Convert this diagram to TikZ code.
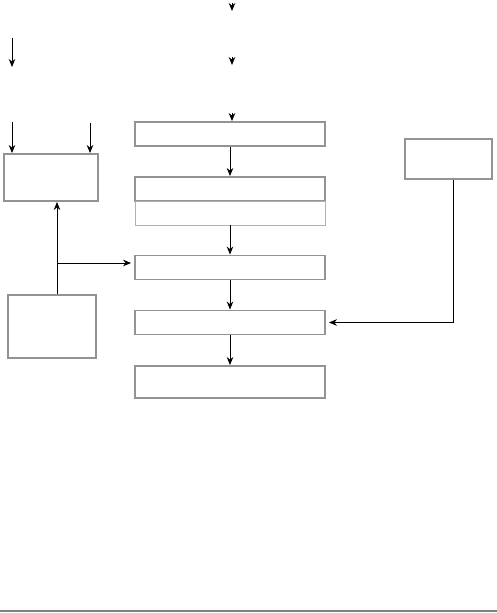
\documentclass[tikz,border=0pt]{standalone}
\usetikzlibrary{arrows.meta}

\begin{document}
\begin{tikzpicture}[x=0.02cm, y=-0.02cm,
  blk/.style={draw=gray!85, line width=1.1pt, rectangle, inner sep=0pt},
  wide/.style={blk, minimum width=3.8cm, minimum height=0.48cm},
  arr/.style={line width=0.5pt, -{Stealth[length=0.16cm, width=0.13cm]}}
]
\useasboundingbox (0,0) rectangle (497,613);
% boxes
\node[blk, minimum width=1.88cm, minimum height=0.94cm] (lt) at (51, 177.5) {};
\node[blk, minimum width=1.76cm, minimum height=1.26cm] (lb) at (52, 326.5) {};
\node[wide] (b1) at (230, 134) {};
\node[wide] (b2) at (230, 189) {};
\node[wide, draw=gray!60, line width=0.5pt] (b2x) at (230, 213) {};
\node[wide] (b3) at (230, 267.5) {};
\node[wide] (b4) at (230, 322.5) {};
\node[wide, minimum height=0.64cm] (b5) at (230, 382) {};
\node[blk, minimum width=1.74cm, minimum height=0.8cm] (rt) at (448.5, 159) {};
% free arrow ends
\coordinate (t1) at (232, 3);
\coordinate (t2) at (232, 57);
\coordinate (t3) at (232, 113);
\coordinate (s1) at (12, 38);
\coordinate (s2) at (12, 122);
\coordinate (s3) at (90, 123);
\coordinate (jn) at (57, 263);
% arrows
\draw[arr] (t1) -- ++(0, 8);
\draw[arr] (t2) -- ++(0, 8);
\draw[arr] (t3) -- (t3 |- b1.north);
\draw[arr] (s1) -- ++(0, 29);
\draw[arr] (s2) -- (s2 |- lt.north);
\draw[arr] (s3) -- (s3 |- lt.north);
\draw[arr] (b1) -- (b2);
\draw[arr] (b2x) -- (b3);
\draw[arr] (b3) -- (b4);
\draw[arr] (b4) -- (b5);
\draw[arr] (jn |- lb.north) -- (jn |- lt.south);
\draw[arr] (jn) -- ([xshift=-0.06cm]jn -| b3.west);
\draw[arr] ([xshift=0.09cm]rt.south) |- ([xshift=0.06cm]b4.east);
% bottom rule
\draw[gray, line width=1.1pt] (0, 611) -- (497, 611);
\end{tikzpicture}
\end{document}
